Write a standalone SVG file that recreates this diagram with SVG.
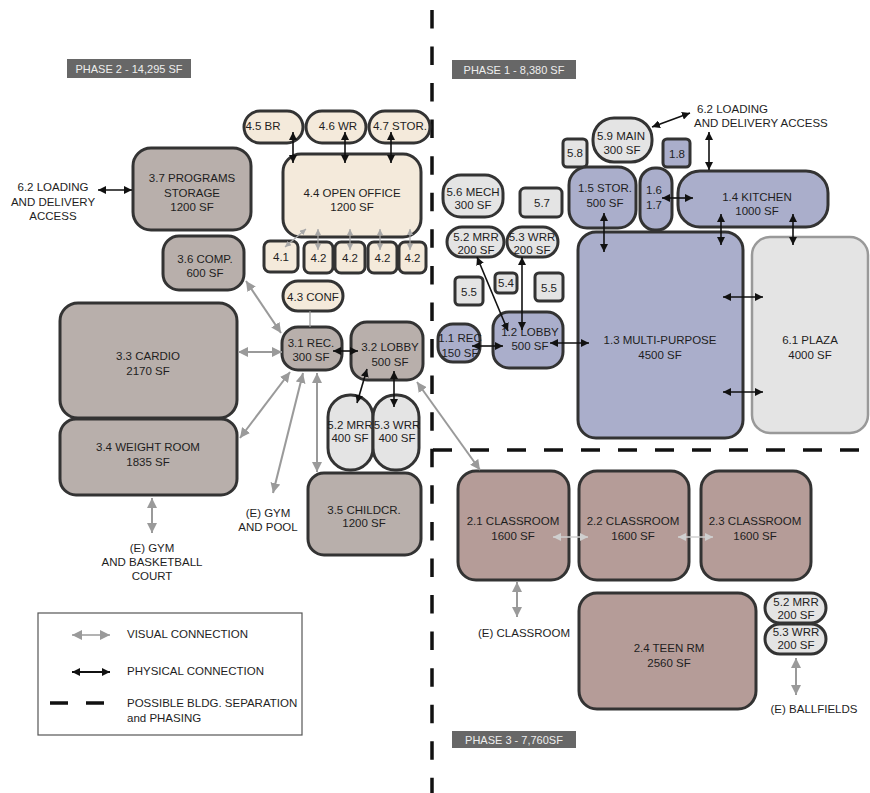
<svg xmlns="http://www.w3.org/2000/svg" width="870" height="793" viewBox="0 0 870 793">
<style>
text{font-family:"Liberation Sans",Arial,sans-serif;font-size:11.5px;fill:#1e1e1e;text-anchor:middle;dominant-baseline:central}
.p2{fill:#b8afab;stroke:#333;stroke-width:3}
.p3{fill:#b59c98;stroke:#333;stroke-width:3}
.p1{fill:#aaaecb;stroke:#333;stroke-width:3}
.lg{fill:#e4e4e4;stroke:#333;stroke-width:3}
.cr{fill:#f4eadb;stroke:#333;stroke-width:3}
.ph{fill:#676767}
.pht{fill:#eee;font-size:11px}
.bk{stroke:#111;stroke-width:1.6;fill:none;marker-start:url(#ab);marker-end:url(#ab)}
.gy{stroke:#9a9a9a;stroke-width:2;fill:none;marker-start:url(#ag);marker-end:url(#ag)}
.gs{stroke:#a8a8a8;stroke-width:1.2;fill:none;marker-start:url(#as);marker-end:url(#as)}
.gl{stroke:#cfcfcf;stroke-width:1.5;fill:none;marker-start:url(#al);marker-end:url(#al)}
.dash{stroke:#111;stroke-width:3.5;fill:none}
.st{text-anchor:start}
</style>
<defs>
<marker id="ab" viewBox="0 0 10 10" refX="10" refY="5" markerWidth="8" markerHeight="8" markerUnits="userSpaceOnUse" orient="auto-start-reverse"><path d="M0,0 L10,5 L0,10 z" fill="#111"/></marker>
<marker id="ag" viewBox="0 0 10 10" refX="10" refY="5" markerWidth="10" markerHeight="10" markerUnits="userSpaceOnUse" orient="auto-start-reverse"><path d="M0,0 L10,5 L0,10 z" fill="#9a9a9a"/></marker>
<marker id="as" viewBox="0 0 10 10" refX="10" refY="5" markerWidth="6" markerHeight="6" markerUnits="userSpaceOnUse" orient="auto-start-reverse"><path d="M0,0 L10,5 L0,10 z" fill="#a8a8a8"/></marker>
<marker id="al" viewBox="0 0 10 10" refX="10" refY="5" markerWidth="8" markerHeight="8" markerUnits="userSpaceOnUse" orient="auto-start-reverse"><path d="M0,0 L10,5 L0,10 z" fill="#cfcfcf"/></marker>
</defs>
<rect width="870" height="793" fill="#fff"/>

<g id="separation">
<line class="dash" x1="432" y1="9.9" x2="432" y2="793" stroke-dasharray="18.5 18.07"/>
<line class="dash" x1="433" y1="450" x2="862" y2="450" stroke-dasharray="19 18"/>
</g>

<g id="phase-labels">
<g id="phase2"><rect class="ph" x="67" y="59" width="124" height="19"/><text class="pht" x="129" y="68.5">PHASE 2 - 14,295 SF</text></g>
<g id="phase1"><rect class="ph" x="452" y="60" width="124" height="19"/><text class="pht" x="514" y="69.5">PHASE 1 -  8,380 SF</text></g>
<g id="phase3"><rect class="ph" x="452" y="731" width="124" height="17"/><text class="pht" x="514" y="739.5">PHASE 3 - 7,760SF</text></g>
</g>

<g id="n-loading-left"><text x="53" y="187">6.2 LOADING</text><text x="53" y="202">AND DELIVERY</text><text x="53" y="216">ACCESS</text></g>
<g id="n-3-7"><rect class="p2" x="133" y="148" width="118" height="82" rx="18"/><text x="192" y="178">3.7 PROGRAMS</text><text x="192" y="193">STORAGE</text><text x="192" y="207">1200 SF</text></g>
<g id="n-4-5"><rect class="cr" x="244" y="111" width="59" height="32" rx="16"/><text x="263" y="126">4.5 BR</text></g>
<g id="n-4-6"><rect class="cr" x="306" y="111" width="60" height="32" rx="16"/><text x="338" y="126">4.6 WR</text></g>
<g id="n-4-7"><rect class="cr" x="369" y="111" width="61" height="32" rx="16"/><text x="400" y="126">4.7 STOR.</text></g>
<g id="n-4-4"><rect class="cr" x="283" y="154" width="138" height="83" rx="18"/><text x="352" y="193">4.4 OPEN OFFICE</text><text x="352" y="207">1200 SF</text></g>
<g id="n-3-6"><rect class="p2" x="163" y="236" width="81" height="54" rx="16"/><text x="205" y="259">3.6 COMP.</text><text x="205" y="273">600 SF</text></g>
<g id="n-4-1"><rect class="cr" x="264" y="241" width="34" height="31" rx="6"/><text x="281" y="257">4.1</text></g>
<g id="n-4-2a"><rect class="cr" x="304" y="242" width="29" height="31" rx="6"/><text x="318.5" y="258">4.2</text></g>
<g id="n-4-2b"><rect class="cr" x="335" y="242" width="30" height="31" rx="6"/><text x="350" y="258">4.2</text></g>
<g id="n-4-2c"><rect class="cr" x="368" y="242" width="29" height="31" rx="6"/><text x="382.5" y="258">4.2</text></g>
<g id="n-4-2d"><rect class="cr" x="399" y="242" width="27" height="31" rx="6"/><text x="412.5" y="258">4.2</text></g>
<g id="n-4-3"><rect class="cr" x="283" y="281" width="60" height="30" rx="15"/><text x="313" y="297">4.3 CONF</text></g>
<g id="n-3-3"><rect class="p2" x="60" y="303" width="177" height="115" rx="18"/><text x="148" y="356">3.3 CARDIO</text><text x="148" y="371">2170 SF</text></g>
<g id="n-3-4"><rect class="p2" x="60" y="419" width="177" height="76" rx="16"/><text x="148" y="447">3.4 WEIGHT ROOM</text><text x="148" y="462">1835 SF</text></g>
<g id="n-3-1"><rect class="p2" x="282" y="327" width="60" height="43" rx="16"/><text x="311" y="343">3.1 REC.</text><text x="311" y="357">300 SF</text></g>
<g id="n-3-2"><rect class="p2" x="351" y="322" width="72" height="58" rx="16"/><text x="390" y="347">3.2 LOBBY</text><text x="390" y="362">500 SF</text></g>
<g id="n-5-2-p2"><rect class="lg" x="328" y="395" width="45" height="75" rx="22"/><text x="350" y="425">5.2 MRR</text><text x="350" y="438">400 SF</text></g>
<g id="n-5-3-p2"><rect class="lg" x="373" y="395" width="46" height="75" rx="22"/><text x="397" y="425">5.3 WRR</text><text x="397" y="438">400 SF</text></g>
<g id="n-3-5"><rect class="p2" x="308" y="473" width="113" height="82" rx="16"/><text x="364" y="510">3.5 CHILDCR.</text><text x="364" y="523">1200 SF</text></g>
<g id="n-gym-pool"><text x="268" y="513">(E) GYM</text><text x="268" y="527">AND POOL</text></g>
<g id="n-gym-court"><text x="152" y="548">(E) GYM</text><text x="152" y="562">AND BASKETBALL</text><text x="152" y="576">COURT</text></g>

<g id="n-loading-right"><text class="st" x="697" y="109">6.2 LOADING</text><text class="st" x="694" y="123">AND DELIVERY ACCESS</text></g>
<g id="n-5-9"><rect class="lg" x="593" y="118" width="59" height="44" rx="21"/><text x="621" y="136">5.9 MAIN</text><text x="622" y="150">300 SF</text></g>
<g id="n-5-8"><rect class="lg" x="563" y="139" width="24" height="28" rx="4"/><text x="575" y="153">5.8</text></g>
<g id="n-1-8"><rect class="p1" x="663" y="139" width="27" height="28" rx="4"/><text x="677" y="154">1.8</text></g>
<g id="n-1-5"><rect class="p1" x="569" y="167" width="67" height="61" rx="18"/><text x="605" y="188">1.5 STOR.</text><text x="605" y="203">500 SF</text></g>
<g id="n-1-6"><rect class="p1" x="640" y="168" width="32" height="62" rx="15"/><text x="654" y="190">1.6</text><text x="654" y="205">1.7</text></g>
<g id="n-1-4"><rect class="p1" x="678" y="171" width="150" height="56" rx="22"/><text x="757" y="197">1.4 KITCHEN</text><text x="757" y="211">1000 SF</text></g>
<g id="n-5-6"><rect class="lg" x="443" y="175" width="60" height="42" rx="18"/><text x="473" y="192">5.6 MECH</text><text x="473" y="205">300 SF</text></g>
<g id="n-5-7"><rect class="lg" x="520" y="188" width="42" height="29" rx="5"/><text x="542" y="203">5.7</text></g>
<g id="n-5-2-p1"><rect class="lg" x="447" y="227" width="57" height="30" rx="15"/><text x="476" y="237">5.2 MRR</text><text x="476" y="250">200 SF</text></g>
<g id="n-5-3-p1"><rect class="lg" x="507" y="227" width="51" height="30" rx="15"/><text x="532" y="237">5.3 WRR</text><text x="532" y="250">200 SF</text></g>
<g id="n-5-5a"><rect class="lg" x="455" y="277" width="28" height="28" rx="4"/><text x="469" y="292">5.5</text></g>
<g id="n-5-4"><rect class="lg" x="495" y="273" width="22" height="20" rx="4"/><text x="506" y="283">5.4</text></g>
<g id="n-5-5b"><rect class="lg" x="535" y="273" width="28" height="28" rx="4"/><text x="549" y="288">5.5</text></g>
<g id="n-1-1"><rect class="p1" x="438" y="324" width="42" height="38" rx="15"/><text x="460" y="338">1.1 REC</text><text x="460" y="353">150 SF</text></g>
<g id="n-1-2"><rect class="p1" x="493" y="312" width="70" height="56" rx="16"/><text x="530" y="332">1.2 LOBBY</text><text x="530" y="346">500 SF</text></g>
<g id="n-1-3"><rect class="p1" x="578" y="232" width="165" height="206" rx="18"/><text x="660" y="340">1.3 MULTI-PURPOSE</text><text x="660" y="355">4500 SF</text></g>
<g id="n-6-1"><rect x="752" y="237" width="116" height="196" rx="18" fill="#e4e4e4" stroke="#999" stroke-width="2.5"/><text x="810" y="340">6.1 PLAZA</text><text x="810" y="355">4000 SF</text></g>

<g id="n-2-1"><rect class="p3" x="458" y="471" width="111" height="109" rx="18"/><text x="513" y="521">2.1 CLASSROOM</text><text x="513" y="536">1600 SF</text></g>
<g id="n-2-2"><rect class="p3" x="579" y="471" width="110" height="109" rx="18"/><text x="633" y="521">2.2 CLASSROOM</text><text x="633" y="536">1600 SF</text></g>
<g id="n-2-3"><rect class="p3" x="701" y="471" width="110" height="109" rx="18"/><text x="755" y="521">2.3 CLASSROOM</text><text x="755" y="536">1600 SF</text></g>
<g id="n-2-4"><rect class="p3" x="579" y="593" width="177" height="116" rx="18"/><text x="669" y="648">2.4 TEEN RM</text><text x="669" y="663">2560 SF</text></g>
<g id="n-5-2-p3"><rect class="lg" x="765" y="593" width="61" height="30" rx="15"/><text x="796" y="602">5.2 MRR</text><text x="796" y="615">200 SF</text></g>
<g id="n-5-3-p3"><rect class="lg" x="765" y="624" width="61" height="30" rx="15"/><text x="796" y="632">5.3 WRR</text><text x="796" y="645">200 SF</text></g>
<g id="n-e-classroom"><text x="524" y="633">(E) CLASSROOM</text></g>
<g id="n-e-ballfields"><text x="814" y="709">(E) BALLFIELDS</text></g>

<g id="connectors">
<line class="bk" x1="98" y1="190" x2="132" y2="190"/>
<line class="bk" x1="293" y1="132" x2="293" y2="163"/>
<line class="bk" x1="345" y1="132" x2="345" y2="163"/>
<line class="bk" x1="391" y1="132" x2="391" y2="163"/>
<line class="gs" x1="285" y1="247" x2="306" y2="229"/>
<line class="gs" x1="318" y1="229" x2="318" y2="250"/>
<line class="gs" x1="350" y1="229" x2="350" y2="250"/>
<line class="gs" x1="380" y1="229" x2="380" y2="250"/>
<line class="gs" x1="410" y1="229" x2="410" y2="250"/>
<line x1="310" y1="311" x2="310" y2="327" stroke="#9a9a9a" stroke-width="1.2"/>
<line class="gy" x1="246" y1="281" x2="281" y2="333"/>
<line class="gy" x1="238" y1="352" x2="282" y2="352"/>
<line class="gy" x1="240" y1="438" x2="290" y2="372"/>
<line class="gy" x1="303" y1="373" x2="273" y2="493"/>
<line class="gy" x1="317" y1="373" x2="317" y2="472"/>
<line class="gy" x1="152" y1="498" x2="152" y2="533"/>
<line class="gy" x1="417" y1="382" x2="480" y2="470"/>
<line class="bk" x1="333" y1="351" x2="358" y2="351"/>
<line class="bk" x1="367" y1="369" x2="357" y2="403"/>
<line class="bk" x1="394" y1="371" x2="394" y2="407"/>
<line class="bk" x1="652" y1="127" x2="690" y2="113"/>
<line class="bk" x1="709" y1="132" x2="709" y2="170"/>
<line class="bk" x1="662" y1="198" x2="693" y2="198"/>
<line class="bk" x1="604" y1="213" x2="604" y2="252"/>
<line class="bk" x1="721" y1="214" x2="721" y2="245"/>
<line class="bk" x1="793" y1="214" x2="793" y2="245"/>
<line class="bk" x1="723" y1="297" x2="763" y2="297"/>
<line class="bk" x1="723" y1="392" x2="763" y2="392"/>
<line class="bk" x1="472" y1="346" x2="503" y2="346"/>
<line class="bk" x1="550" y1="343" x2="589" y2="343"/>
<line class="bk" x1="508" y1="331" x2="477" y2="257"/>
<line class="bk" x1="522" y1="257" x2="522" y2="330"/>
<line class="gl" x1="553" y1="537" x2="588" y2="537"/>
<line class="gl" x1="678" y1="537" x2="713" y2="537"/>
<line class="gy" x1="517" y1="582" x2="517" y2="617"/>
<line class="gy" x1="796" y1="658" x2="796" y2="695"/>
</g>

<g id="legend">
<rect x="38" y="613" width="264" height="122" fill="#fff" stroke="#555" stroke-width="1.2"/>
<line class="gy" x1="72" y1="635" x2="110" y2="635" style="stroke-width:1.5"/>
<text class="st" x="127" y="634">VISUAL CONNECTION</text>
<line class="bk" x1="72" y1="672" x2="110" y2="672" style="stroke-width:2"/>
<text class="st" x="127" y="671">PHYSICAL CONNECTION</text>
<line x1="50" y1="703" x2="106" y2="703" stroke="#111" stroke-width="3.5" stroke-dasharray="18 18"/>
<text class="st" x="127" y="703">POSSIBLE BLDG. SEPARATION</text>
<text class="st" x="127" y="718">and PHASING</text>
</g>
</svg>
